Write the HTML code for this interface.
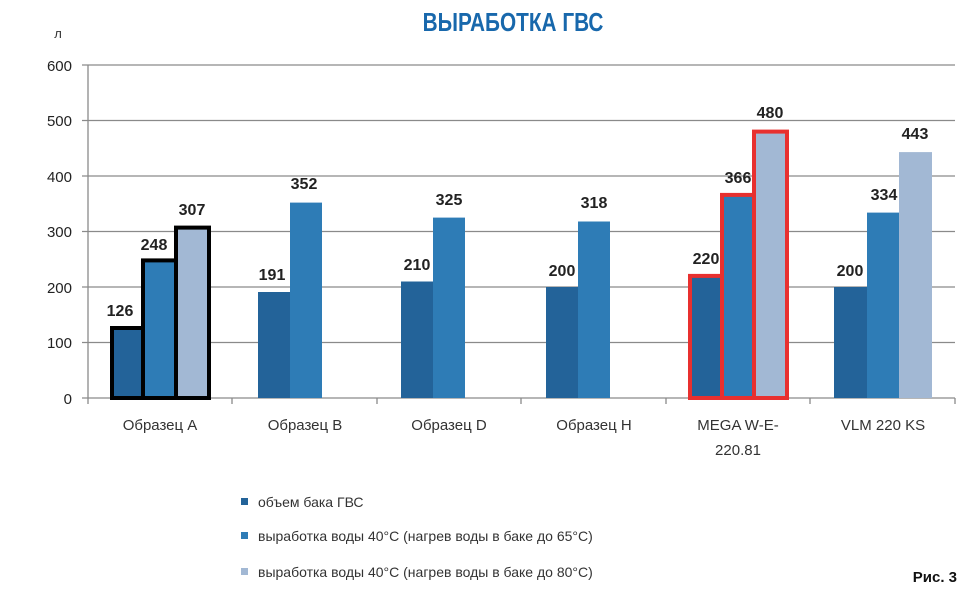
<!DOCTYPE html>
<html><head><meta charset="utf-8"><style>
body{margin:0;background:#fff;}
svg{display:block;font-family:"Liberation Sans","DejaVu Sans",sans-serif;}
</style></head><body>
<svg width="977" height="610" viewBox="0 0 977 610" xmlns="http://www.w3.org/2000/svg">
<text x="513" y="31" text-anchor="middle" font-size="26" font-weight="bold" fill="#1868ac" transform="translate(513 0) scale(0.8 1) translate(-513 0)">ВЫРАБОТКА ГВС</text>
<text x="58" y="38" text-anchor="middle" font-size="13" fill="#333">л</text>
<g stroke="#8a8a8a" stroke-width="1.3">
<line x1="82" y1="65" x2="955" y2="65"/>
<line x1="82" y1="120.5" x2="955" y2="120.5"/>
<line x1="82" y1="176" x2="955" y2="176"/>
<line x1="82" y1="231.5" x2="955" y2="231.5"/>
<line x1="82" y1="287" x2="955" y2="287"/>
<line x1="82" y1="342.5" x2="955" y2="342.5"/>
<line x1="82" y1="398" x2="955" y2="398"/>
<line x1="88" y1="65" x2="88" y2="404"/>
<line x1="232" y1="398" x2="232" y2="404"/>
<line x1="377" y1="398" x2="377" y2="404"/>
<line x1="521" y1="398" x2="521" y2="404"/>
<line x1="666" y1="398" x2="666" y2="404"/>
<line x1="810" y1="398" x2="810" y2="404"/>
<line x1="955" y1="398" x2="955" y2="404"/>
</g>
<g font-size="15" fill="#222" text-anchor="end">
<text x="72" y="71">600</text><text x="72" y="126">500</text><text x="72" y="182">400</text>
<text x="72" y="237">300</text><text x="72" y="293">200</text><text x="72" y="348">100</text><text x="72" y="404">0</text>
</g>
<g>
<rect x="112" y="328" width="31" height="70" fill="#236399" stroke="#000" stroke-width="4"/>
<rect x="143" y="260.4" width="33" height="137.6" fill="#2e7cb6" stroke="#000" stroke-width="4"/>
<rect x="176" y="227.6" width="33" height="170.4" fill="#a2b8d4" stroke="#000" stroke-width="4"/>

<rect x="258" y="292" width="32" height="106" fill="#236399"/>
<rect x="290" y="202.6" width="32" height="195.4" fill="#2e7cb6"/>

<rect x="401" y="281.5" width="32" height="116.5" fill="#236399"/>
<rect x="433" y="217.6" width="32" height="180.4" fill="#2e7cb6"/>

<rect x="546" y="287" width="32" height="111" fill="#236399"/>
<rect x="578" y="221.5" width="32" height="176.5" fill="#2e7cb6"/>

<rect x="690" y="275.9" width="32" height="122.1" fill="#236399" stroke="#e8302f" stroke-width="4"/>
<rect x="722" y="194.9" width="32" height="203.1" fill="#2e7cb6" stroke="#e8302f" stroke-width="4"/>
<rect x="754" y="131.6" width="33" height="266.4" fill="#a2b8d4" stroke="#e8302f" stroke-width="4"/>

<rect x="834" y="287" width="33" height="111" fill="#236399"/>
<rect x="867" y="212.6" width="32" height="185.4" fill="#2e7cb6"/>
<rect x="899" y="152.1" width="33" height="245.9" fill="#a2b8d4"/>
</g>
<g font-size="16" font-weight="bold" fill="#222" text-anchor="middle">
<text x="120" y="316">126</text><text x="154" y="250">248</text><text x="192" y="215">307</text>
<text x="272" y="280">191</text><text x="304" y="189">352</text>
<text x="417" y="270">210</text><text x="449" y="205">325</text>
<text x="562" y="276">200</text><text x="594" y="208">318</text>
<text x="706" y="264">220</text><text x="738" y="183">366</text>
<text x="770" y="118">480</text>
<text x="850" y="276">200</text><text x="884" y="200">334</text><text x="915" y="139">443</text>
</g>
<g font-size="15" fill="#333" text-anchor="middle">
<text x="160" y="430">Образец А</text>
<text x="305" y="430">Образец В</text>
<text x="449" y="430">Образец D</text>
<text x="594" y="430">Образец H</text>
<text x="738" y="430">MEGA W-E-</text>
<text x="738" y="455">220.81</text>
<text x="883" y="430">VLM 220 KS</text>
</g>
<rect x="241" y="498" width="7" height="7" fill="#236399"/>
<rect x="241" y="532" width="7" height="7" fill="#2e7cb6"/>
<rect x="241" y="568" width="7" height="7" fill="#a2b8d4"/>
<g font-size="14" fill="#333">
<text x="258" y="507">объем бака ГВС</text>
<text x="258" y="541">выработка воды 40°С (нагрев воды в баке до 65°С)</text>
<text x="258" y="577">выработка воды 40°С (нагрев воды в баке до 80°С)</text>
</g>
<text x="957" y="582" text-anchor="end" font-size="15" font-weight="bold" fill="#111">Рис. 3</text>
</svg>
</body></html>
